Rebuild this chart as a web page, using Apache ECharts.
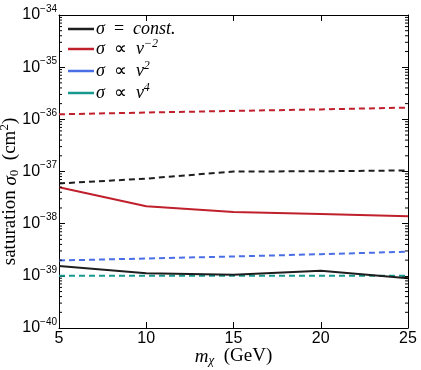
<!DOCTYPE html>
<html>
<head>
<meta charset="utf-8">
<style>
  html, body { margin: 0; padding: 0; background: #fff; }
  #chart { width: 421px; height: 370px; }
</style>
<script src="https://cdn.jsdelivr.net/npm/echarts@6/dist/echarts.min.js"></script>
</head>
<body>
<div id="chart"></div>
<script>
(function () {
  'use strict';

  const masses = [5, 10, 15, 20, 25];

  // cross sections in cm^2
  const constSolid = [1.55e-39, 1.12e-39, 1.05e-39, 1.25e-39, 0.9e-39];
  const constDashed = [5.9e-38, 7.3e-38, 1.0e-37, 1.01e-37, 1.05e-37];
  const vm2Solid = [5.0e-38, 2.15e-38, 1.68e-38, 1.53e-38, 1.38e-38];
  const vm2Dashed = [1.25e-36, 1.35e-36, 1.45e-36, 1.55e-36, 1.68e-36];
  const v2Dashed = [1.97e-39, 2.15e-39, 2.35e-39, 2.6e-39, 2.9e-39];
  const v4Dashed = [1.0e-39, 1.0e-39, 1.0e-39, 1.0e-39, 1.0e-39];

  const yMinExp = -40;
  const yMaxExp = -34;

  const legendNames = ['σ = const.', 'σ ∝ v^-2', 'σ ∝ v^2', 'σ ∝ v^4'];
  const legendRich = {
    'σ = const.': '{i|σ}{r|  =  }{i|const.}',
    'σ ∝ v^-2': '{i|σ}{r|  ∝  }{i|v}{s|−2}',
    'σ ∝ v^2': '{i|σ}{r|  ∝  }{i|v}{s|2}',
    'σ ∝ v^4': '{i|σ}{r|  ∝  }{i|v}{s|4}'
  };

  // echarts log axis breaks with min 1e-40, so plot in units of 1e-40 cm^2
  const unit = Math.pow(10, yMinExp);
  const toUnit = v => v / unit;

  // minor tick positions for the log axis (2..9 per decade)
  const minorTicks = [];
  for (let e = 0; e < yMaxExp - yMinExp; e++) {
    for (let m = 2; m <= 9; m++) minorTicks.push(m * Math.pow(10, e));
  }

  const colors = { black: '#1e1e1e', red: '#c0202c', blue: '#4a6ee6', teal: '#17998f' };
  const serif = 'Liberation Serif';
  const sans = 'Liberation Sans';

  const chart = echarts.init(document.getElementById('chart'));

  function line(name, data, color, dashed) {
    return {
      name: name,
      type: 'line',
      data: masses.map((m, i) => [m, toUnit(data[i])]),
      symbol: 'none',
      lineStyle: { color: color, width: 2, type: dashed ? [6, 4] : 'solid' },
      itemStyle: { color: color },
      z: dashed ? 3 : 4
    };
  }

  function minorSide(name, x, dx) {
    return {
      name: name,
      type: 'scatter',
      silent: true,
      data: minorTicks.map(v => [x, v]),
      symbol: 'rect',
      symbolSize: [3, 1],
      symbolOffset: [dx, 0],
      itemStyle: { color: '#000', opacity: 1 },
      clip: false,
      z: 6
    };
  }

  const yLabel = v => {
    const e = Math.round(Math.log10(v)) + yMinExp;
    return '{b|10}{s|−' + Math.abs(e) + '}';
  };

  const yRich = {
    b: { fontFamily: sans, fontSize: 16, lineHeight: 16, color: '#000' },
    s: { fontFamily: sans, fontSize: 10, lineHeight: 10, color: '#000', padding: [0, 0, 12, 0] }
  };

  const yMin = 1;
  const yMax = Math.pow(10, yMaxExp - yMinExp);

  chart.setOption({
    animation: false,
    grid: { left: 59, right: 13, top: 15, bottom: 42, containLabel: false, outerBoundsMode: 'none' },
    legend: {
      data: legendNames,
      left: 68,
      top: 20,
      orient: 'vertical',
      icon: 'rect',
      itemWidth: 26,
      itemHeight: 2.5,
      itemGap: 0,
      padding: 0,
      formatter: n => legendRich[n],
      textStyle: {
        padding: [0, 0, 0, -3],
        rich: {
          i: { fontFamily: serif, fontStyle: 'italic', fontSize: 18, lineHeight: 15, color: '#000' },
          r: { fontFamily: serif, fontSize: 18, lineHeight: 15, color: '#000' },
          s: { fontFamily: serif, fontStyle: 'italic', fontSize: 12, lineHeight: 5, color: '#000', padding: [0, 0, 10, 0] }
        }
      }
    },
    xAxis: [{
      type: 'value',
      min: 5,
      max: 25,
      interval: 5,
      name: '{i|m}{sub|χ}{r|  (GeV)}',
      nameLocation: 'middle',
      nameGap: 19,
      nameMoveOverlap: false,
      nameTextStyle: {
        rich: {
          i: { fontFamily: serif, fontStyle: 'italic', fontSize: 19, lineHeight: 19, color: '#000' },
          sub: { fontFamily: serif, fontStyle: 'italic', fontSize: 13, lineHeight: 5, color: '#000', padding: [8, 0, 0, 0] },
          r: { fontFamily: serif, fontSize: 19, lineHeight: 19, color: '#000' }
        }
      },
      axisLine: { lineStyle: { color: '#000', width: 1 } },
      axisTick: { inside: true, length: 6, lineStyle: { color: '#000' } },
      axisLabel: { fontFamily: sans, fontSize: 16, color: '#000', margin: 3 },
      splitLine: { show: false }
    }, {
      type: 'value',
      position: 'top',
      min: 5,
      max: 25,
      interval: 5,
      axisLine: { lineStyle: { color: '#000', width: 1 } },
      axisTick: { inside: true, length: 6, lineStyle: { color: '#000' } },
      axisLabel: { show: false },
      splitLine: { show: false }
    }],
    yAxis: [{
      type: 'log',
      logBase: 10,
      min: yMin,
      max: yMax,
      name: '{r|saturation }{i|σ}{sub|0}{r|  (cm}{sup|2}{r|)}{gap|}',
      nameLocation: 'middle',
      nameGap: 39,
      nameMoveOverlap: false,
      nameTextStyle: {
        rich: {
          i: { fontFamily: serif, fontStyle: 'italic', fontSize: 19, lineHeight: 19, color: '#000' },
          r: { fontFamily: serif, fontSize: 19, lineHeight: 19, color: '#000' },
          sub: { fontFamily: serif, fontSize: 13, lineHeight: 5, color: '#000', padding: [8, 0, 0, 0] },
          sup: { fontFamily: serif, fontSize: 13, lineHeight: 5, color: '#000', padding: [0, 0, 12, 0] },
          gap: { width: 40 }
        }
      },
      axisLine: { show: true, lineStyle: { color: '#000', width: 1 } },
      axisTick: { inside: true, length: 6, lineStyle: { color: '#000' } },
      axisLabel: { formatter: yLabel, rich: yRich, margin: 2 },
      splitLine: { show: false }
    }, {
      type: 'log',
      logBase: 10,
      min: yMin,
      max: yMax,
      position: 'right',
      axisLine: { show: true, lineStyle: { color: '#000', width: 1 } },
      axisTick: { inside: true, length: 6, lineStyle: { color: '#000' } },
      axisLabel: { show: false },
      splitLine: { show: false }
    }],
    series: [
      line('σ = const.', constSolid, colors.black, false),
      line('σ ∝ v^-2', vm2Solid, colors.red, false),
      line('σ ∝ v^2', v2Dashed, colors.blue, true),
      line('σ ∝ v^4', v4Dashed, colors.teal, true),
      line('σ = const.', constDashed, colors.black, true),
      line('σ ∝ v^-2', vm2Dashed, colors.red, true),
      minorSide('minorLeft', 5, 1.5),
      minorSide('minorRight', 25, -1.5)
    ]
  });

  window.addEventListener('resize', () => chart.resize());
})();
</script>
</body>
</html>
